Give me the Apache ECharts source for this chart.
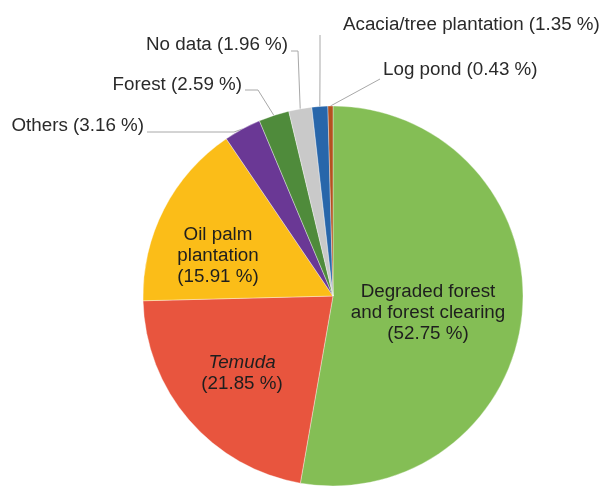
<!DOCTYPE html>
<html>
<head>
<meta charset="utf-8">
<script src="https://cdn.jsdelivr.net/npm/echarts@6/dist/echarts.min.js"></script>
<style>
  html, body { margin: 0; padding: 0; background: #fff; }
  #chart { width: 602px; height: 489px; }
</style>
</head>
<body>
<div id="chart"></div>
<script>
// Land-cover shares (%), clockwise from 12 o'clock
const categories = [
  'Degraded forest and forest clearing',
  'Temuda',
  'Oil palm plantation',
  'Others',
  'Forest',
  'No data',
  'Acacia/tree plantation',
  'Log pond'
];
const shares = [52.75, 21.85, 15.91, 3.16, 2.59, 1.96, 1.35, 0.43];
const sliceColors = ['#84be55', '#e8553e', '#fbbd18', '#6a3895', '#4f8b3b', '#c9c9c9', '#2866aa', '#b4521f'];

// Text shown for each slice (line breaks for the inside labels)
const labelTexts = [
  'Degraded forest\nand forest clearing',
  '{i|Temuda}',
  'Oil palm\nplantation',
  'Others',
  'Forest',
  'No data',
  'Acacia/tree plantation',
  'Log pond'
];
const insideCount = 3;

// Label placement: inside labels centred, outside ones anchored to their text edge.
// `bend` is the elbow of the leader line and `tip` its end next to the text.
const labelPlacement = [
  { x: 428, y: 313, align: 'center' },
  { x: 242, y: 373, align: 'center' },
  { x: 218, y: 256, align: 'center' },
  { x: 144, y: 126, align: 'right', bend: [234, 132], tip: [147, 132] },
  { x: 242, y: 85, align: 'right', bend: [258, 90], tip: [245, 90] },
  { x: 288, y: 45, align: 'right', bend: [298, 51], tip: [291, 51] },
  { x: 343, y: 25, align: 'left', bend: [320, 70], tip: [320, 35] },
  { x: 383, y: 70, align: 'left', bend: [380, 79], tip: [380, 79] }
];

const fmtPct = v => '(' + v.toFixed(2) + ' %)';
const FONT = 'Liberation Sans, Arial, sans-serif';

const data = categories.map((name, i) => {
  const inside = i < insideCount;
  return {
    name: name,
    value: shares[i],
    itemStyle: { color: sliceColors[i] },
    label: {
      position: inside ? 'inside' : 'outside',
      formatter: inside ? labelTexts[i] + '\n' + fmtPct(shares[i]) : labelTexts[i] + ' ' + fmtPct(shares[i]),
      color: inside ? '#1e1e1e' : '#2a2a2a',
      lineHeight: 21
    },
    labelLine: { show: !inside }
  };
});

const chart = echarts.init(document.getElementById('chart'), null, { renderer: 'canvas' });
chart.setOption({
  backgroundColor: '#ffffff',
  animation: false,
  series: [{
    type: 'pie',
    center: [333, 296],
    radius: [0, 190],
    startAngle: 90,
    clockwise: true,
    avoidLabelOverlap: false,
    data: data,
    itemStyle: { borderColor: 'rgba(255,255,255,0.6)', borderWidth: 0.6 },
    label: {
      fontFamily: FONT,
      fontSize: 18.8,
      rich: {
        i: { fontStyle: 'italic', fontFamily: FONT, fontSize: 18.8, color: '#1e1e1e', lineHeight: 21 }
      }
    },
    labelLine: {
      length: 10,
      length2: 10,
      smooth: false,
      lineStyle: { color: '#a8a8a8', width: 1 }
    },
    labelLayout: function (params) {
      const p = labelPlacement[params.dataIndex];
      const out = { x: p.x, y: p.y, align: p.align, verticalAlign: 'middle' };
      if (p.tip && params.labelLinePoints) {
        // start at the slice's outer edge as laid out by the pie
        const start = params.labelLinePoints[0];
        out.labelLinePoints = [start, p.bend, p.tip];
      }
      return out;
    }
  }]
});
</script>
</body>
</html>
